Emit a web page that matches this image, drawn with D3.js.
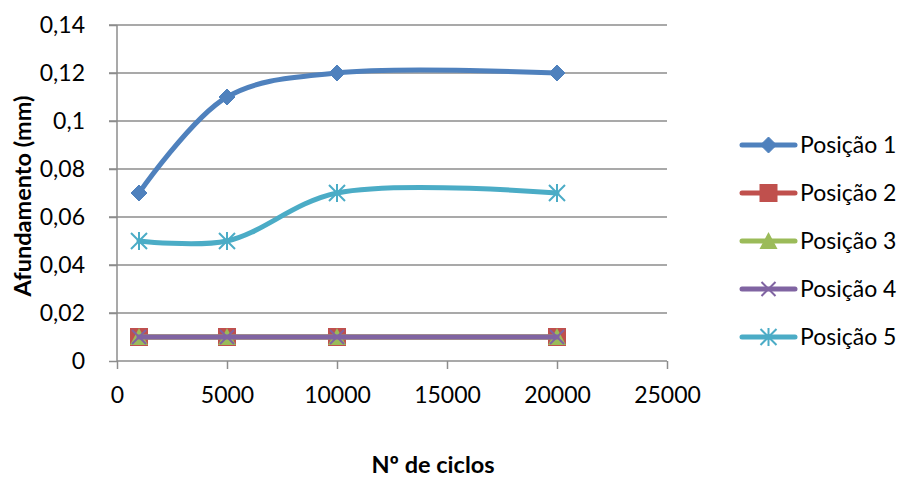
<!DOCTYPE html>
<html><head><meta charset="utf-8">
<script src="https://cdn.jsdelivr.net/npm/d3@7"></script>
<style>body{margin:0;background:#fff}svg{display:block}text{font-family:Lato,"Open Sans",sans-serif;fill:#000}</style>
</head><body><svg id="c" width="904" height="478"></svg>
<script>
const ciclos = [1000, 5000, 10000, 20000];
const seriesNames = ["Posição 1","Posição 2","Posição 3","Posição 4","Posição 5"];
const pos1 = [0.07, 0.11, 0.12, 0.12];
const pos2 = [0.01, 0.01, 0.01, 0.01];
const pos3 = [0.01, 0.01, 0.01, 0.01];
const pos4 = [0.01, 0.01, 0.01, 0.01];
const pos5 = [0.05, 0.05, 0.07, 0.07];
const yTicks = [0,0.02,0.04,0.06,0.08,0.1,0.12,0.14];
const xTicks = [0,5000,10000,15000,20000,25000];
const colors = ["#4F81BD","#C0504D","#9BBB59","#8064A2","#4BACC6"];
const markers = ["diamond","square","triangle","x","star"];
const allSeries = [pos1,pos2,pos3,pos4,pos5];

const FS = "23px";
const svg = d3.select("#c");
const x = d3.scaleLinear().domain([0,25000]).range([117,667]);
const y = d3.scaleLinear().domain([0,0.14]).range([361,25]);
const fmtY = v => v===0 ? "0" : String(+v.toFixed(2)).replace(".", ",");

// gridlines
svg.append("g").selectAll("line").data(yTicks.slice(1)).join("line")
  .attr("x1",109).attr("x2",667).attr("y1",d=>y(d)).attr("y2",d=>y(d))
  .attr("stroke","#8c8c8c").attr("stroke-width",1.5);
// y axis
const ya = svg.append("g").attr("transform","translate(117,0)")
  .call(d3.axisLeft(y).tickValues(yTicks).tickFormat(fmtY).tickSizeOuter(0).tickSize(8).tickPadding(24));
// x axis
const xa = svg.append("g").attr("transform","translate(0,361)")
  .call(d3.axisBottom(x).tickValues(xTicks).tickFormat(d=>String(d)).tickSizeOuter(0).tickSize(8).tickPadding(16));
[ya,xa].forEach(a=>{
  a.selectAll("path,line").attr("stroke","#8c8c8c").attr("stroke-width",1.5);
  a.selectAll("text").style("font-size",FS).style("font-family","Lato,'Open Sans',sans-serif");
});
ya.select(".domain").attr("d","M0,361V25");
xa.select(".domain").attr("d","M117,0H667");
xa.selectAll("text").attr("dy",null).attr("y",42);

// titles
svg.append("text").attr("x",433).attr("y",473).attr("text-anchor","middle")
  .style("font-size","23.5px").style("font-weight","bold").text("Nº de ciclos");
svg.append("text").attr("transform","translate(31,196) rotate(-90)").attr("text-anchor","middle")
  .style("font-size","23.5px").style("font-weight","bold").text("Afundamento (mm)");

const line = d3.line().x(d=>x(d[0])).y(d=>y(d[1])).curve(d3.curveCatmullRom.alpha(0.5));

function drawMarker(g, type, cx, cy, color){
  if(type==="diamond"){
    g.append("path").attr("d",`M${cx},${cy-8}L${cx+8},${cy}L${cx},${cy+8}L${cx-8},${cy}Z`).attr("fill",color).attr("stroke",color).attr("stroke-width",1);
  } else if(type==="square"){
    g.append("rect").attr("x",cx-9).attr("y",cy-9).attr("width",18).attr("height",18).attr("fill",color);
  } else if(type==="triangle"){
    g.append("path").attr("d",`M${cx},${cy-9}L${cx+9},${cy+8}L${cx-9},${cy+8}Z`).attr("fill",color);
  } else if(type==="x"){
    g.append("path").attr("d",`M${cx-7},${cy-7}L${cx+7},${cy+7}M${cx-7},${cy+7}L${cx+7},${cy-7}`).attr("stroke",color).attr("stroke-width",2);
  } else if(type==="star"){
    g.append("path").attr("d",`M${cx-8},${cy-8}L${cx+8},${cy+8}M${cx-8},${cy+8}L${cx+8},${cy-8}M${cx},${cy-9}L${cx},${cy+9}`).attr("stroke",color).attr("stroke-width",2);
  }
}

allSeries.forEach((vals,i)=>{
  const g = svg.append("g");
  const pts = ciclos.map((c,j)=>[c,vals[j]]);
  g.append("path").attr("d",line(pts)).attr("fill","none").attr("stroke",colors[i]).attr("stroke-width",5).attr("stroke-linecap","round");
  pts.forEach(p=>drawMarker(g, markers[i], x(p[0]), y(p[1]), colors[i]));
});

// legend
const lg = svg.append("g");
seriesNames.forEach((n,i)=>{
  const cy = 145 + i*48;
  const g = lg.append("g");
  g.append("line").attr("x1",742).attr("x2",795).attr("y1",cy).attr("y2",cy).attr("stroke",colors[i]).attr("stroke-width",5).attr("stroke-linecap","round");
  drawMarker(g, markers[i], 768.5, cy, colors[i]);
  g.append("text").attr("x",800).attr("y",cy+8).style("font-size",FS).text(n);
});
</script></body></html>
